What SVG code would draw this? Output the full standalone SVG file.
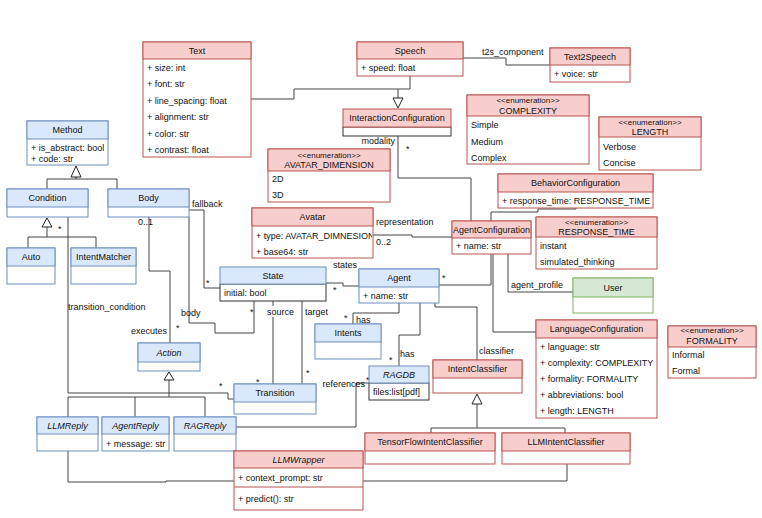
<svg xmlns="http://www.w3.org/2000/svg" width="762" height="518" viewBox="0 0 762 518">
<style>
text{font-family:"Liberation Sans",Arial,sans-serif;font-size:9px;fill:#111}
.t{text-anchor:middle}
.i{font-style:italic}
.s{font-size:8px}
.bh{fill:#dae8fc;stroke:#6c8ebf;stroke-width:1}
.bb{fill:#fff;stroke:#6c8ebf;stroke-width:1}
.rh{fill:#f8cecc;stroke:#b85450;stroke-width:1}
.rb{fill:#fff;stroke:#b85450;stroke-width:1}
.gh{fill:#d5e8d4;stroke:#82b366;stroke-width:1}
.gb{fill:#fff;stroke:#82b366;stroke-width:1}
.db{fill:#fff;stroke:#333;stroke-width:1}
.c path{fill:none;stroke:#444;stroke-width:1}
.c path.tri{fill:#fff;stroke:#222}
.lb{fill:#fff}
</style>
<defs>
<clipPath id="avclip"><rect x="252" y="226" width="120" height="32"/></clipPath>
</defs>
<rect width="762" height="518" fill="#fff"/>
<g class="c" id="connectors">
<path d="M76,177 V179 M47,189 V179 H117 V189"/>
<path class="tri" d="M76,166 L71,177 L81,177 Z"/>
<path d="M47,227 V237 M28,248 V237 H96 V248"/>
<path class="tri" d="M47,218 L42,227 L52,227 Z"/>
<path d="M149,217 V271 H170 V343"/>
<path d="M189,210 H204 V288 H220"/>
<path d="M254,301 V333 H215 V323 H189 V217"/>
<path d="M68,217 V393 H228 V399 H234"/>
<path d="M169,380 V397 M68,417 V397 H205 V417 M135,397 V417"/>
<path class="tri" d="M169,372 L164,380 L174,380 Z"/>
<path d="M68,451 V482 H166 V481 H234"/>
<path d="M236,427 H356 V383 H369"/>
<path d="M273,301 V384"/>
<path d="M302,301 V384"/>
<path d="M326,283 H343 V286 H359"/>
<path d="M399,303 V313 H353 V324"/>
<path d="M420,303 V335 H399 V366"/>
<path d="M439,285 H491 V254"/>
<path d="M508,254 V292 H573"/>
<path d="M493,254 V332 H536"/>
<path d="M435,303 V307 H477 V360"/>
<path d="M576,208 V209 H538 V212 H491 V221"/>
<path d="M373,235 H412 V237 H452"/>
<path d="M398,136 V178 H471 V221"/>
<path d="M410,76 V89 H398 V98 M251,99 H294 V89 H398"/>
<path class="tri" d="M398,108 L393,98 L403,98 Z"/>
<path d="M463,58 H506 V65 H550"/>
<path d="M477,404 V428 M431,433 V428 H565 V433"/>
<path class="tri" d="M477,394 L472,404 L482,404 Z"/>
<path d="M363,481 H567 V464"/>
<text x="138" y="225">0..1</text>
<text x="167" y="334" text-anchor="end">executes</text>
<text x="176" y="331">*</text>
<text x="192" y="207">fallback</text>
<text x="206" y="286">*</text>
<text x="181" y="316">body</text>
<text x="250" y="315">*</text>
<text x="68" y="310">transition_condition</text>
<text x="219" y="389">*</text>
<text x="58" y="232">*</text>
<text x="365" y="387" text-anchor="end">references</text>
<text x="366" y="383">*</text>
<rect class="lb" x="265" y="306" width="29" height="11"/>
<text x="267" y="315">source</text>
<text x="256" y="385">*</text>
<rect class="lb" x="304" y="306" width="27" height="11"/>
<text x="305" y="315">target</text>
<text x="306" y="376">*</text>
<text x="333" y="268">states</text>
<text x="333" y="293">*</text>
<text x="356" y="323">has</text>
<text x="344" y="321">*</text>
<text x="400" y="357">has</text>
<text x="389" y="363">*</text>
<text x="442" y="281">*</text>
<text x="511" y="288">agent_profile</text>
<text x="479" y="354">classifier</text>
<text x="376" y="225">representation</text>
<text x="376" y="245">0..2</text>
<text x="395" y="144" text-anchor="end">modality</text>
<text x="406" y="152">*</text>
<text x="482" y="55">t2s_component</text>
</g>
<g id="Text"><rect class="rb" x="143" y="42" width="108" height="115"/><rect class="rh" x="143" y="42" width="108" height="17"/>
<text class="t" x="197" y="53.5">Text</text>
<text x="147" y="71">+ size: int</text><text x="147" y="87">+ font: str</text><text x="147" y="104">+ line_spacing: float</text><text x="147" y="120">+ alignment: str</text><text x="147" y="137">+ color: str</text><text x="147" y="153">+ contrast: float</text></g>
<g id="Speech"><rect class="rb" x="357" y="42" width="106" height="34"/><rect class="rh" x="357" y="42" width="106" height="17"/>
<text class="t" x="410" y="53.5">Speech</text><text x="361" y="71">+ speed: float</text></g>
<g id="Text2Speech"><rect class="rb" x="550" y="48" width="80" height="34"/><rect class="rh" x="550" y="48" width="80" height="17"/>
<text class="t" x="590" y="59.5">Text2Speech</text><text x="554" y="77">+ voice: str</text></g>
<g id="InteractionConfiguration"><rect class="db" x="343" y="127" width="108" height="9"/><rect class="rh" x="343" y="109" width="108" height="18"/>
<text class="t" x="397" y="121">InteractionConfiguration</text></g>
<g id="COMPLEXITY"><rect class="rb" x="467" y="95" width="122" height="69"/><rect class="rh" x="467" y="95" width="122" height="21"/>
<text class="t s" x="528" y="103">&lt;&lt;enumeration&gt;&gt;</text><text class="t" x="528" y="113.5">COMPLEXITY</text>
<text x="471" y="128">Simple</text><text x="471" y="145">Medium</text><text x="471" y="161">Complex</text></g>
<g id="LENGTH"><rect class="rb" x="599" y="117" width="102" height="53"/><rect class="rh" x="599" y="117" width="102" height="20"/>
<text class="t s" x="650" y="125">&lt;&lt;enumeration&gt;&gt;</text><text class="t" x="650" y="135">LENGTH</text>
<text x="603" y="150">Verbose</text><text x="603" y="166">Concise</text></g>
<g id="AVATAR_DIMENSION"><rect class="rb" x="268" y="149" width="122" height="53"/><rect class="rh" x="268" y="149" width="122" height="22"/>
<text class="t s" x="329" y="158">&lt;&lt;enumeration&gt;&gt;</text><text class="t" x="329" y="168">AVATAR_DIMENSION</text>
<text x="272" y="182">2D</text><text x="272" y="198">3D</text></g>
<g id="Avatar"><rect class="rb" x="252" y="208" width="121" height="50"/><rect class="rh" x="252" y="208" width="121" height="18"/>
<text class="t" x="312.5" y="220">Avatar</text>
<text x="256" y="239" clip-path="url(#avclip)">+ type: AVATAR_DIMNESION</text><text x="256" y="255">+ base64: str</text></g>
<g id="Method"><rect class="bb" x="27" y="121" width="81" height="44"/><rect class="bh" x="27" y="121" width="81" height="18"/>
<text class="t" x="67.5" y="133">Method</text><text x="31" y="151">+ is_abstract: bool</text><text x="31" y="162">+ code: str</text></g>
<g id="Condition"><rect class="bb" x="7" y="189" width="81" height="28"/><rect class="bh" x="7" y="189" width="81" height="18"/>
<text class="t" x="47.5" y="201">Condition</text></g>
<g id="Body"><rect class="bb" x="108" y="189" width="81" height="28"/><rect class="bh" x="108" y="189" width="81" height="18"/>
<text class="t" x="148.5" y="201">Body</text></g>
<g id="Auto"><rect class="bb" x="7" y="248" width="48" height="36"/><rect class="bh" x="7" y="248" width="48" height="18"/>
<text class="t" x="31" y="260">Auto</text></g>
<g id="IntentMatcher"><rect class="bb" x="71" y="248" width="65" height="36"/><rect class="bh" x="71" y="248" width="65" height="18"/>
<text class="t" x="103.5" y="260">IntentMatcher</text></g>
<g id="State"><rect class="db" x="220" y="284" width="106" height="17"/><rect class="bh" x="220" y="267" width="106" height="17"/>
<text class="t" x="273" y="278.5">State</text><text x="224" y="296">initial: bool</text></g>
<g id="Agent"><rect class="bb" x="359" y="269" width="80" height="34"/><rect class="bh" x="359" y="269" width="80" height="18"/>
<text class="t" x="399" y="281">Agent</text><text x="363" y="299">+ name: str</text></g>
<g id="Intents"><rect class="bb" x="315" y="324" width="66" height="35"/><rect class="bh" x="315" y="324" width="66" height="18"/>
<text class="t" x="348" y="336">Intents</text></g>
<g id="RAGDB"><rect class="db" x="369" y="383" width="60" height="17"/><rect class="bh" x="369" y="366" width="60" height="17"/>
<text class="t i" x="399" y="377.5">RAGDB</text><text x="373" y="395">files:list[pdf]</text></g>
<g id="Action"><rect class="bb" x="138" y="343" width="62" height="28"/><rect class="bh" x="138" y="343" width="62" height="19"/>
<text class="t i" x="169" y="355.5">Action</text></g>
<g id="Transition"><rect class="bb" x="234" y="384" width="82" height="30"/><rect class="bh" x="234" y="384" width="82" height="18"/>
<text class="t" x="275" y="396">Transition</text></g>
<g id="LLMReply"><rect class="bb" x="37" y="417" width="61" height="34"/><rect class="bh" x="37" y="417" width="61" height="17"/>
<text class="t i" x="67.5" y="428.5">LLMReply</text></g>
<g id="AgentReply"><rect class="bb" x="102" y="417" width="67" height="34"/><rect class="bh" x="102" y="417" width="67" height="17"/>
<text class="t i" x="135.5" y="428.5">AgentReply</text><text x="106" y="447">+ message: str</text></g>
<g id="RAGReply"><rect class="bb" x="174" y="417" width="62" height="34"/><rect class="bh" x="174" y="417" width="62" height="17"/>
<text class="t i" x="205" y="428.5">RAGReply</text></g>
<g id="LLMWrapper"><rect class="rb" x="234" y="451" width="129" height="59"/><rect class="rh" x="234" y="451" width="129" height="17"/>
<path d="M234,487 H363" stroke="#b85450" fill="none"/>
<text class="t i" x="298.5" y="462.5">LLMWrapper</text><text x="238" y="481">+ context_prompt: str</text><text x="238" y="502">+ predict(): str</text></g>
<g id="IntentClassifier"><rect class="rb" x="433" y="360" width="89" height="33"/><rect class="rh" x="433" y="360" width="89" height="18"/>
<text class="t" x="477.5" y="372">IntentClassifier</text></g>
<g id="TensorFlowIntentClassifier"><rect class="rb" x="365" y="433" width="130" height="31"/><rect class="rh" x="365" y="433" width="130" height="18"/>
<text class="t" x="430" y="445">TensorFlowIntentClassifier</text></g>
<g id="LLMIntentClassifier"><rect class="rb" x="502" y="433" width="128" height="31"/><rect class="rh" x="502" y="433" width="128" height="18"/>
<text class="t" x="566" y="445">LLMIntentClassifier</text></g>
<g id="BehaviorConfiguration"><rect class="rb" x="498" y="174" width="155" height="34"/><rect class="rh" x="498" y="174" width="155" height="18"/>
<text class="t" x="575.5" y="186">BehaviorConfiguration</text><text x="502" y="204">+ response_time: RESPONSE_TIME</text></g>
<g id="RESPONSE_TIME"><rect class="rb" x="536" y="217" width="121" height="52"/><rect class="rh" x="536" y="217" width="121" height="20"/>
<text class="t s" x="596.5" y="224.5">&lt;&lt;enumeration&gt;&gt;</text><text class="t" x="596.5" y="234.5">RESPONSE_TIME</text>
<text x="540" y="249">instant</text><text x="540" y="265">simulated_thinking</text></g>
<g id="AgentConfiguration"><rect class="rb" x="452" y="221" width="79" height="33"/><rect class="rh" x="452" y="221" width="79" height="17"/>
<text class="t" x="491.5" y="232.5">AgentConfiguration</text><text x="456" y="249">+ name: str</text></g>
<g id="User"><rect class="gb" x="573" y="278" width="80" height="35"/><rect class="gh" x="573" y="278" width="80" height="19"/>
<text class="t" x="613" y="290.5">User</text></g>
<g id="LanguageConfiguration"><rect class="rb" x="536" y="320" width="121" height="98"/><rect class="rh" x="536" y="320" width="121" height="18"/>
<text class="t" x="596.5" y="332">LanguageConfiguration</text>
<text x="540" y="350">+ language: str</text><text x="540" y="366">+ complexity: COMPLEXITY</text><text x="540" y="382">+ formality: FORMALITY</text><text x="540" y="398">+ abbreviations: bool</text><text x="540" y="414">+ length: LENGTH</text></g>
<g id="FORMALITY"><rect class="rb" x="668" y="326" width="88" height="52"/><rect class="rh" x="668" y="326" width="88" height="21"/>
<text class="t s" x="712" y="333">&lt;&lt;enumeration&gt;&gt;</text><text class="t" x="712" y="343.5">FORMALITY</text>
<text x="672" y="358">Informal</text><text x="672" y="374">Formal</text></g>
</svg>
